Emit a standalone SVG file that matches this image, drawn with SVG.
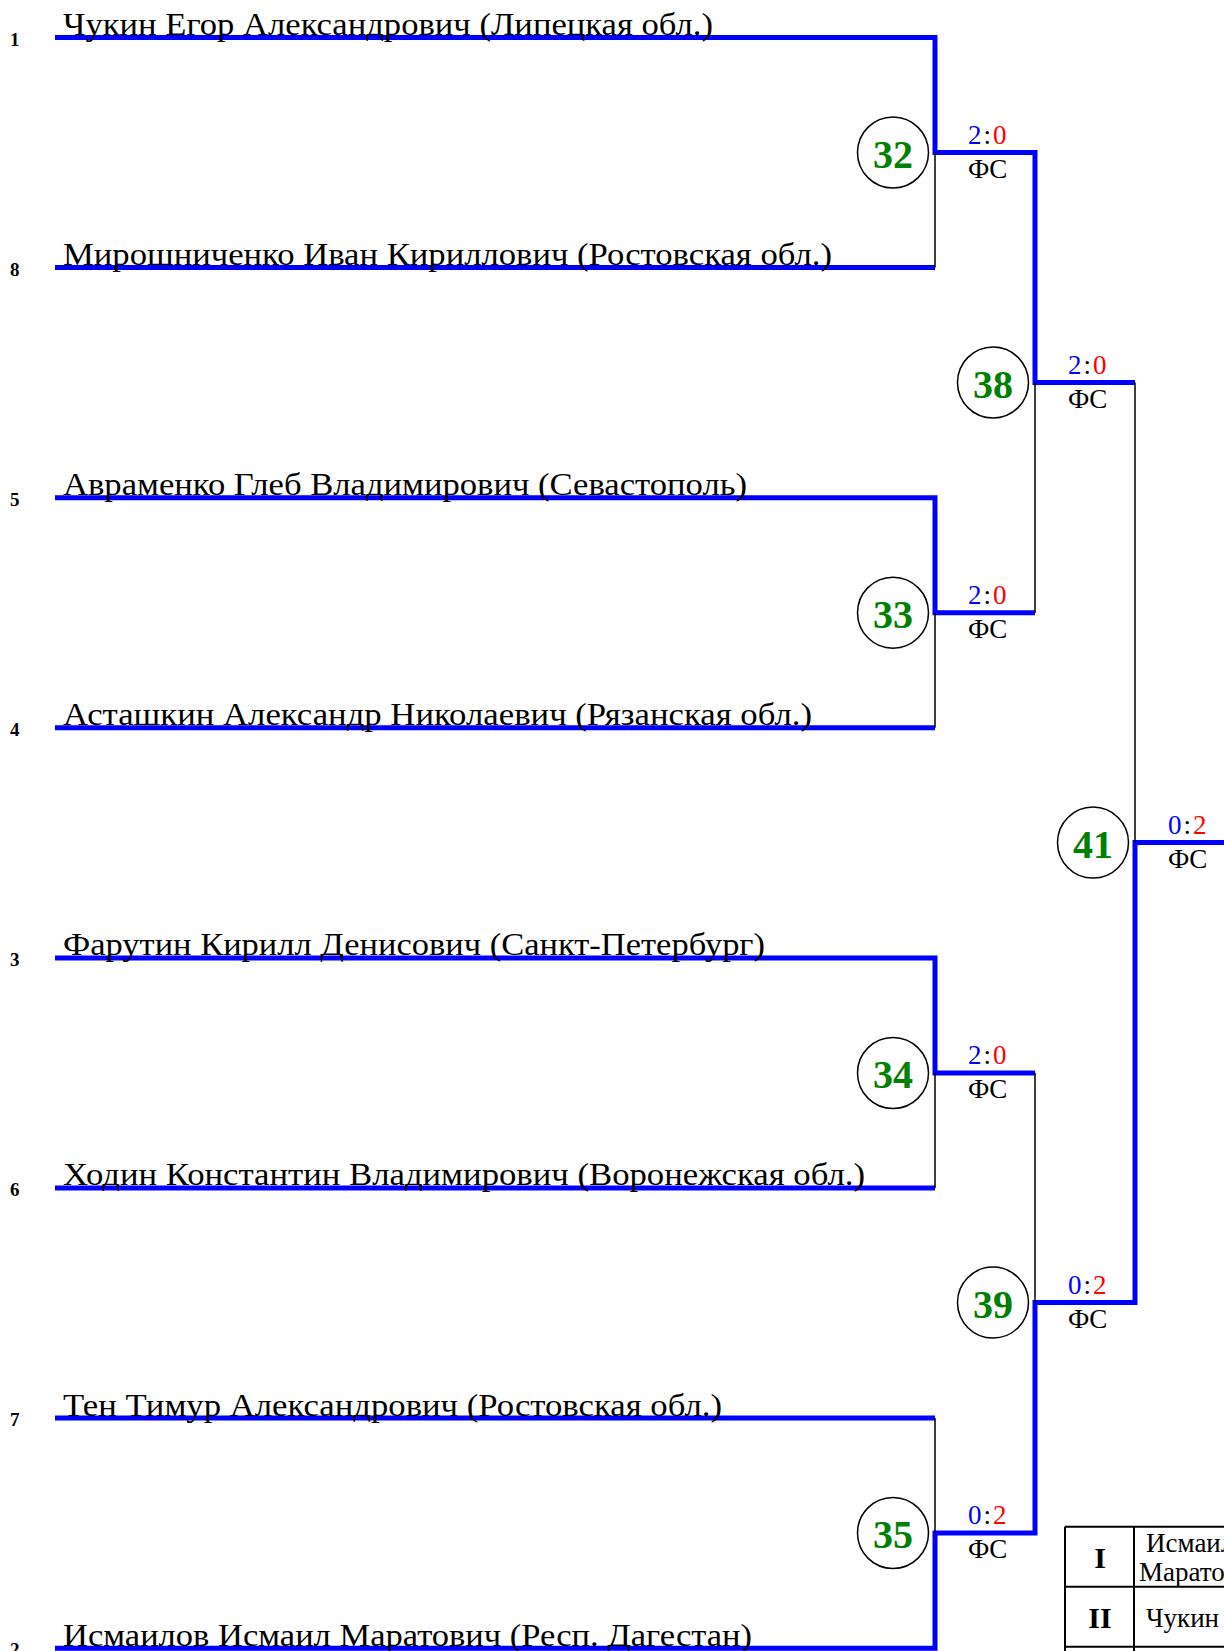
<svg xmlns="http://www.w3.org/2000/svg" width="1224" height="1651" viewBox="0 0 1224 1651">
<defs>
<style>
.name{font-family:"Liberation Serif","Times New Roman",serif;font-size:32px;fill:#000}
.seed{font-family:"Liberation Serif","Times New Roman",serif;font-size:19px;font-weight:bold;fill:#000}
.num{font-family:"Liberation Serif","Times New Roman",serif;font-size:40px;font-weight:bold;fill:#008000;text-anchor:middle}
.score{font-family:"Liberation Serif","Times New Roman",serif;font-size:27px;letter-spacing:2px}
.fs{font-family:"Liberation Serif","Times New Roman",serif;font-size:27px;fill:#000}
.b{fill:#0000ff}.r{fill:#ff0000}.k{fill:#000}
.win{fill:none;stroke:#0000ff;stroke-width:5;stroke-linejoin:miter}
.thin{fill:none;stroke:#000;stroke-width:1.5}
.circ{fill:#fff;stroke:#000;stroke-width:1.5}
.tbl{fill:none;stroke:#000;stroke-width:2}
.place{font-family:"Liberation Serif","Times New Roman",serif;font-size:30px;font-weight:bold;text-anchor:middle}
.tname{font-family:"Liberation Serif","Times New Roman",serif;fill:#000;font-size:27px}
</style>
</defs>
<rect width="1224" height="1651" fill="#fff"/>
<g id="connectors">
<path class="win" d="M55 37.5H935V152.5H1035V382.5H1135"/>
<path class="win" d="M55 267.6H935"/>
<path class="win" d="M55 497.7H935V612.7H1035"/>
<path class="win" d="M55 727.8H935"/>
<path class="win" d="M55 957.9H935V1073H1035"/>
<path class="win" d="M55 1188H935"/>
<path class="win" d="M55 1418.1H935"/>
<path class="win" d="M55 1648.2H935V1533H1035V1302.6H1135V842.6H1230"/>
<path class="thin" d="M935 152.5V267.6M935 612.7V727.8M1035 382.5V612.7M935 1073V1188M935 1418.1V1533M1035 1073V1302.6M1135 382.5V842.6"/>
</g>
<g id="seeds">
<text class="seed" x="10" y="46">1</text>
<text class="seed" x="10" y="276">8</text>
<text class="seed" x="10" y="506">5</text>
<text class="seed" x="10" y="736">4</text>
<text class="seed" x="10" y="966">3</text>
<text class="seed" x="10" y="1196">6</text>
<text class="seed" x="10" y="1426">7</text>
<text class="seed" x="10" y="1656">2</text>
</g>
<g id="p1"><text class="name" x="63" y="35" textLength="650" lengthAdjust="spacingAndGlyphs">Чукин Егор Александрович (Липецкая обл.)</text></g>
<g id="p8"><text class="name" x="63" y="265" textLength="769" lengthAdjust="spacingAndGlyphs">Мирошниченко Иван Кириллович (Ростовская обл.)</text></g>
<g id="p5"><text class="name" x="63" y="495" textLength="684" lengthAdjust="spacingAndGlyphs">Авраменко Глеб Владимирович (Севастополь)</text></g>
<g id="p4"><text class="name" x="63" y="725" textLength="749" lengthAdjust="spacingAndGlyphs">Асташкин Александр Николаевич (Рязанская обл.)</text></g>
<g id="p3"><text class="name" x="63" y="955" textLength="702" lengthAdjust="spacingAndGlyphs">Фарутин Кирилл Денисович (Санкт-Петербург)</text></g>
<g id="p6"><text class="name" x="63" y="1185" textLength="802" lengthAdjust="spacingAndGlyphs">Ходин Константин Владимирович (Воронежская обл.)</text></g>
<g id="p7"><text class="name" x="63" y="1415.5" textLength="659" lengthAdjust="spacingAndGlyphs">Тен Тимур Александрович (Ростовская обл.)</text></g>
<g id="p2"><text class="name" x="63" y="1645.5" textLength="689" lengthAdjust="spacingAndGlyphs">Исмаилов Исмаил Маратович (Респ. Дагестан)</text></g>
<g id="m32"><circle class="circ" cx="893" cy="152.5" r="35.5"/><text class="num" x="893" y="167.5">32</text>
<text class="score" x="968" y="143.5"><tspan class="b">2</tspan><tspan class="k">:</tspan><tspan class="r">0</tspan></text><text class="fs" x="968" y="177.5">ФС</text></g>
<g id="m33"><circle class="circ" cx="893" cy="612.7" r="35.5"/><text class="num" x="893" y="627.7">33</text>
<text class="score" x="968" y="603.7"><tspan class="b">2</tspan><tspan class="k">:</tspan><tspan class="r">0</tspan></text><text class="fs" x="968" y="637.7">ФС</text></g>
<g id="m34"><circle class="circ" cx="893" cy="1073" r="35.5"/><text class="num" x="893" y="1088">34</text>
<text class="score" x="968" y="1064"><tspan class="b">2</tspan><tspan class="k">:</tspan><tspan class="r">0</tspan></text><text class="fs" x="968" y="1098">ФС</text></g>
<g id="m35"><circle class="circ" cx="893" cy="1533" r="35.5"/><text class="num" x="893" y="1548">35</text>
<text class="score" x="968" y="1524"><tspan class="b">0</tspan><tspan class="k">:</tspan><tspan class="r">2</tspan></text><text class="fs" x="968" y="1558">ФС</text></g>
<g id="m38"><circle class="circ" cx="993" cy="382.5" r="35.5"/><text class="num" x="993" y="397.5">38</text>
<text class="score" x="1068" y="373.5"><tspan class="b">2</tspan><tspan class="k">:</tspan><tspan class="r">0</tspan></text><text class="fs" x="1068" y="407.5">ФС</text></g>
<g id="m39"><circle class="circ" cx="993" cy="1302.6" r="35.5"/><text class="num" x="993" y="1317.6">39</text>
<text class="score" x="1068" y="1293.6"><tspan class="b">0</tspan><tspan class="k">:</tspan><tspan class="r">2</tspan></text><text class="fs" x="1068" y="1327.6">ФС</text></g>
<g id="m41"><circle class="circ" cx="1093" cy="842.6" r="35.5"/><text class="num" x="1093" y="857.6">41</text>
<text class="score" x="1168" y="833.6"><tspan class="b">0</tspan><tspan class="k">:</tspan><tspan class="r">2</tspan></text><text class="fs" x="1168" y="867.6">ФС</text></g>
<g id="results">
<path class="tbl" d="M1065 1526.7H1230M1065 1586.7H1230M1065 1646.7H1230M1065 1526.7V1660M1134 1526.7V1660"/>
<text class="place" x="1100" y="1568">I</text>
<text class="place" x="1100" y="1628">II</text>
<text class="tname" x="1146" y="1552">Исмаилов Исмаил</text>
<text class="tname" x="1139" y="1581">Маратович</text>
<text class="tname" x="1146" y="1627">Чукин Егор Александрович</text>
</g>
</svg>
